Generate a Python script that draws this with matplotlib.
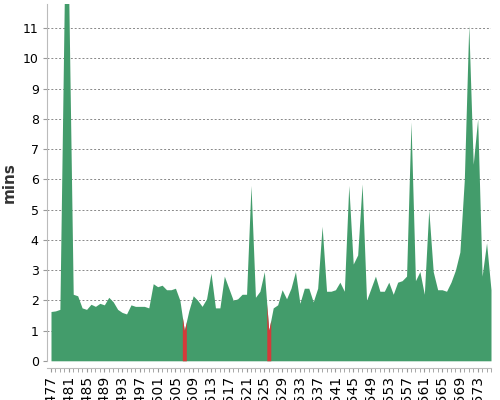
import matplotlib
matplotlib.use("Agg")
import matplotlib.pyplot as plt
import numpy as np

builds = list(range(477, 577))
mins = [1.63, 1.65, 1.7, 12, 12, 2.2, 2.15, 1.75, 1.7, 1.87,
        1.8, 1.9, 1.85, 2.1, 1.95, 1.7, 1.6, 1.55, 1.85, 1.8,
        1.8, 1.8, 1.75, 2.55, 2.45, 2.5, 2.35, 2.35, 2.4, 2.0,
        1.0, 1.65, 2.15, 2.0, 1.8, 2.05, 2.9, 1.75, 1.75, 2.8,
        2.4, 2.0, 2.05, 2.2, 2.2, 5.8, 2.1, 2.3, 2.95, 1.0,
        1.75, 1.85, 2.35, 2.05, 2.4, 2.95, 1.9, 2.4, 2.4, 1.95,
        2.4, 4.45, 2.3, 2.3, 2.35, 2.6, 2.3, 5.8, 3.2, 3.5,
        5.85, 2.0, 2.4, 2.8, 2.3, 2.3, 2.6, 2.2, 2.6, 2.65,
        2.8, 7.9, 2.65, 2.95, 2.2, 5.0, 2.95, 2.35, 2.35, 2.3,
        2.6, 3.0, 3.6, 6.0, 11.1, 6.5, 8.0, 2.8, 3.9, 2.35]
failed = [507, 526]

GREEN = "#439c6b"
RED = "#d43a3a"

fig = plt.figure(figsize=(5, 4), dpi=100)
ax = fig.add_axes([0.094, 0.098, 0.888, 0.892])
x = np.array(builds, dtype=float)
y = np.array(mins)
ax.fill_between(x, 0, y, color=GREEN, lw=0, zorder=2)
for b in failed:
    xs = np.linspace(b - 0.45, b + 0.45, 20)
    ax.fill_between(xs, 0, np.interp(xs, x, y), color=RED, lw=0, zorder=3)

ax.set_xlim(476.1, 575.7)
ax.set_ylim(0, 11.8)
ax.set_yticks(range(0, 12))
ax.tick_params(axis="y", length=3, labelsize=9, color="#999999", pad=3)
ax.set_xticks(builds, minor=True)
ax.set_xticks(builds[::4])
ax.set_xticklabels([f"#{b}" for b in builds[::4]], fontsize=8)
ax.tick_params(axis="x", which="both", length=3, color="#999999", pad=2, labelrotation=90)
ax.grid(axis="y", linestyle=(0, (2, 2)), color="#888888", lw=0.7, zorder=1)
for s in ["top", "right"]:
    ax.spines[s].set_visible(False)
for s in ["left", "bottom"]:
    ax.spines[s].set_color("#bbbbbb")
ax.spines["bottom"].set_position(("outward", 5))
ax.set_ylabel("mins", fontsize=11, fontweight="bold", color="#333333")
fig.savefig("out.png", dpi=100)
